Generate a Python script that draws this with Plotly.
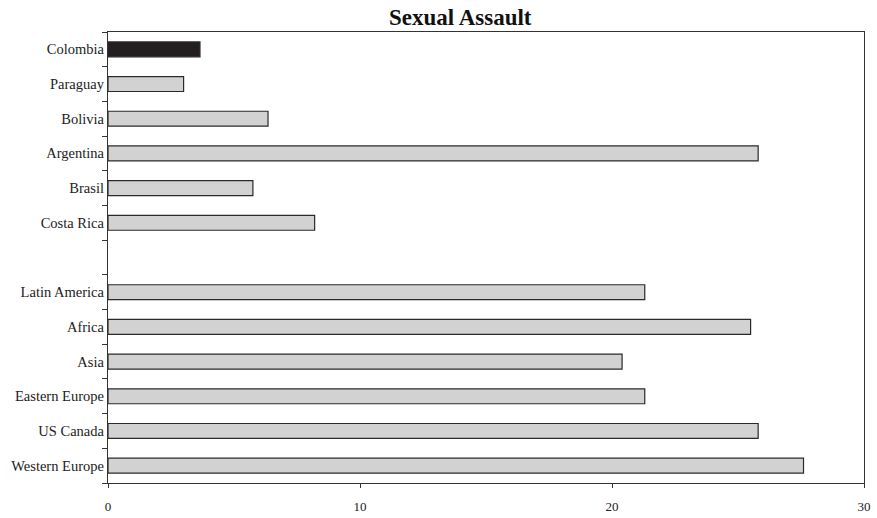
import plotly.graph_objects as go

categories = ["Western Europe", "US Canada", "Eastern Europe", "Asia", "Africa",
              "Latin America", " ", "Costa Rica", "Brasil", "Argentina",
              "Bolivia", "Paraguay", "Colombia"]
values = [27.6, 25.8, 21.3, 20.4, 25.5, 21.3, None, 8.2, 5.75, 25.8, 6.35, 3.0, 3.65]
colors = ["#d2d2d2"] * 12 + ["#231f20"]
x_ticks = [0, 10, 20, 30]

fig = go.Figure()
fig.add_trace(go.Bar(
    y=categories, x=values, orientation="h",
    marker=dict(color=colors, line=dict(color="#2a2a2a", width=1.2)),
    width=0.43,
))

font_family = "Liberation Serif, Times New Roman, serif"
fig.update_layout(
    width=877, height=518,
    margin=dict(l=108, r=13, t=32, b=35, autoexpand=False),
    plot_bgcolor="white", paper_bgcolor="white",
    showlegend=False,
    font=dict(family=font_family, color="#222"),
    annotations=[dict(text="<b>Sexual Assault</b>", xref="paper", yref="paper",
                      x=0.466, y=1.0, xanchor="center", yanchor="bottom", yshift=0,
                      showarrow=False, font=dict(size=23, family=font_family, color="#111"))],
)
fig.update_xaxes(range=[0, 30], tickvals=x_ticks, ticktext=[str(t) for t in x_ticks],
                 ticks="outside", ticklen=4, tickcolor="#333",
                 showline=True, linecolor="#333", linewidth=1.3, mirror=True,
                 showgrid=False, zeroline=False, automargin=False,
                 ticklabeloverflow="allow", ticklabelstandoff=7,
                 tickfont=dict(size=13, family=font_family, color="#222"))
fig.update_yaxes(type="category", categoryorder="array", categoryarray=categories,
                 range=[-0.5, len(categories) - 0.5],
                 tickson="boundaries", ticks="outside", ticklen=5, tickcolor="#333",
                 showline=True, linecolor="#333", linewidth=1.3, mirror=True,
                 showgrid=False, zeroline=False, automargin=False,
                 tickfont=dict(size=14.5, family=font_family, color="#222"))

fig.write_html("out.html",
               config={"displayModeBar": False},
               post_script="document.body.style.margin='0';document.body.style.overflow='hidden';")
